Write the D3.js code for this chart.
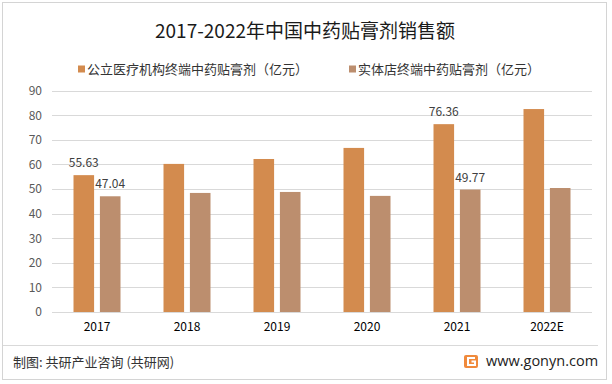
<!DOCTYPE html>
<html><head><meta charset="utf-8">
<script src="https://cdn.jsdelivr.net/npm/d3@7"></script>
<style>body{margin:0;background:#fff}svg{display:block}text{font-family:"Noto Sans CJK SC","Noto Sans",sans-serif}</style>
</head><body><svg id="c" width="612" height="384"></svg>
<script>
const categories = ["2017","2018","2019","2020","2021","2022E"];
const seriesNames = ["公立医疗机构终端中药贴膏剂（亿元）","实体店终端中药贴膏剂（亿元）"];
const publicValues = [55.63, 60.2, 62.2, 66.7, 76.36, 82.5];
const storeValues = [47.04, 48.4, 48.8, 47.2, 49.77, 50.4];
const labeledIdx = [0, 4];
const yTicks = [0,10,20,30,40,50,60,70,80,90];
const colors = ["#D38B4E","#BC8E6E"];
const title = "2017-2022年中国中药贴膏剂销售额";
const source = "制图: 共研产业咨询 (共研网)";
const site = "www.gonyn.com";

const svg = d3.select("#c");
svg.append("rect").attr("x",2.5).attr("y",2.5).attr("width",604).attr("height",377)
  .attr("fill","#fff").attr("stroke","#d4d4d4");

const x0 = d3.scaleBand().domain(categories).range([52,592]).padding(0);
const groupW = 47;
const x1 = d3.scaleBand().domain([0,1]).range([0,groupW]).paddingInner(0.22);
const y = d3.scaleLinear().domain([0,90]).range([312,90.6]);

// gridlines
svg.append("g").selectAll("line").data(yTicks).join("line")
  .attr("x1",52).attr("x2",592).attr("y1",d=>Math.round(y(d))+0.5).attr("y2",d=>Math.round(y(d))+0.5)
  .attr("stroke","#d9d9d9").attr("stroke-width",1);

// y labels
const yAxis = d3.axisLeft(y).tickValues(yTicks).tickSize(0).tickPadding(0);
const ya = svg.append("g").attr("transform","translate(42,0)").call(yAxis);
ya.select(".domain").remove();
ya.selectAll("text").attr("font-size",12).attr("fill","#595959").style("font-family","'Noto Sans CJK SC',sans-serif");

// x labels
const xAxis = d3.axisBottom(x0).tickSize(0).tickPadding(0);
const xa = svg.append("g").attr("transform","translate(0,324)").call(xAxis);
xa.select(".domain").remove();
xa.selectAll("text").attr("font-size",12).attr("fill","#000").attr("dy","0.6em").style("font-family","'Noto Sans CJK SC',sans-serif");

const data = categories.map((c,i)=>({c, v:[publicValues[i], storeValues[i]], i}));
const off = (x0.bandwidth()-groupW)/2;
const g = svg.append("g");
data.forEach(d=>{
  d.v.forEach((v,s)=>{
    g.append("rect").attr("x",x0(d.c)+off+x1(s)).attr("width",x1.bandwidth())
      .attr("y",y(v)).attr("height",y(0)-y(v)).attr("fill",colors[s]);
    if(labeledIdx.includes(d.i)){
      g.append("text").attr("x",x0(d.c)+off+x1(s)+x1.bandwidth()/2).attr("y",y(v)-8)
        .attr("text-anchor","middle").attr("font-size",12).attr("fill","#404040").text(v.toFixed(2));
    }
  });
});

// title
svg.append("text").attr("x",305).attr("y",38).attr("text-anchor","middle")
  .attr("font-size",19).attr("fill","#1a1a1a").text(title);

// legend
const lx = [78, 349];
seriesNames.forEach((n,i)=>{
  svg.append("rect").attr("x",lx[i]).attr("y",65.5).attr("width",7).attr("height",7).attr("fill",colors[i]);
  svg.append("text").attr("x",lx[i]+9).attr("y",74).attr("font-size",13).attr("fill","#333").text(n);
});

// footer
svg.append("line").attr("x1",3).attr("x2",598).attr("y1",345.5).attr("y2",345.5).attr("stroke","#d9d9d9");
svg.append("text").attr("x",13).attr("y",367).attr("font-size",13).attr("fill","#333").text(source);
// logo
const lg = svg.append("g").attr("transform","translate(464,355)");
lg.append("rect").attr("width",14).attr("height",13).attr("rx",2).attr("fill","#F08A3C");
lg.append("path").attr("d","M11 3 H4 V10 H11 V6.5 H7.5").attr("fill","none").attr("stroke","#fff").attr("stroke-width",2);
svg.append("text").attr("x",486).attr("y",366).attr("font-size",14.5).attr("fill","#222")
  .style("font-family","'Open Sans','Noto Sans',sans-serif").text(site);
</script></body></html>
